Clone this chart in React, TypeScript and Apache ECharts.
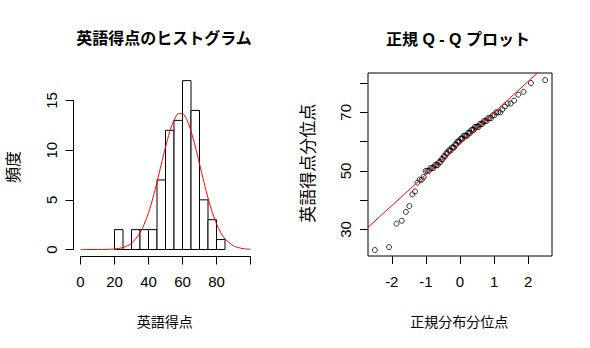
import React, { useEffect, useRef } from "react";
import * as echarts from "echarts";

// Histogram of English scores
const histBreaks = [20, 25, 30, 35, 40, 45, 50, 55, 60, 65, 70, 75, 80, 85];
const histCounts = [2, 0, 2, 2, 2, 7, 12, 13, 17, 14, 5, 3, 1];
const histXTicks = [0, 20, 40, 60, 80];

// Normal density curve (scaled to counts)
const curveX = [0, 5, 10, 15, 20, 25, 30, 35, 37.5, 40, 42.5, 45, 47.5, 50, 52.5, 55, 57.5, 60, 62.5, 65, 67.5, 70, 72.5, 75, 77.5, 80, 82.5, 85, 90, 95, 100];
const curveY = [0, 0, 0.002, 0.011, 0.051, 0.196, 0.63, 1.68, 2.55, 3.7, 5.12, 6.78, 8.56, 10.31, 11.87, 13.03, 13.66, 13.68, 13.07, 11.92, 10.38, 8.63, 6.85, 5.19, 3.75, 2.59, 1.7, 1.07, 0.37, 0.106, 0.025];

// Q-Q plot
const theoQuantiles = [
  -2.4977, -2.08, -1.8627, -1.7086, -1.5871, -1.4853, -1.397, -1.318, -1.2469, -1.1809,
  -1.1203, -1.0636, -1.01, -0.9594, -0.9104, -0.8644, -0.8199, -0.7764, -0.7344, -0.6945,
  -0.6552, -0.6164, -0.5793, -0.5421, -0.5066, -0.4709, -0.4365, -0.4023, -0.3684, -0.3352,
  -0.3021, -0.2695, -0.2371, -0.2051, -0.1733, -0.1415, -0.11, -0.0784, -0.047, -0.0157,
  0.0157, 0.047, 0.0784, 0.11, 0.1415, 0.1733, 0.2051, 0.2371, 0.2695, 0.3021,
  0.3352, 0.3684, 0.4023, 0.4365, 0.4709, 0.5066, 0.5421, 0.5793, 0.6164, 0.6552,
  0.6945, 0.7344, 0.7764, 0.8199, 0.8644, 0.9104, 0.9594, 1.01, 1.0636, 1.1203,
  1.1809, 1.2469, 1.318, 1.397, 1.4853, 1.5871, 1.7086, 1.8627, 2.08, 2.4977,
];
const sortedScores = [
  23, 24, 32, 33, 36, 38, 42, 43, 46, 47, 47, 48, 50, 50, 50, 51, 51, 51, 52, 52,
  52, 53, 53, 54, 54, 55, 55, 56, 56, 57, 57, 57, 58, 58, 58, 59, 59, 60, 60, 60,
  61, 61, 61, 62, 62, 62, 62, 63, 63, 63, 64, 64, 64, 65, 65, 65, 65, 66, 66, 66,
  67, 67, 67, 68, 68, 68, 69, 69, 70, 70, 70, 71, 72, 73, 73, 74, 76, 77, 80, 81,
];
const qqLineX = [-2.698, 2.698];
const qqLineY = [30.75, 87.95];
const qqXTicks = [-2, -1, 0, 1, 2];
const qqYTicks = [30, 40, 50, 60, 70, 80];
const qqYLabels = [30, 50, 70];

const LATIN = "'Liberation Sans', Arial, sans-serif";
const CJK = "'Liberation Sans', 'Noto Sans CJK JP', sans-serif";

export default function App() {
  const ref = useRef<HTMLDivElement>(null);
  useEffect(() => {
    const chart = echarts.init(ref.current!, null, { renderer: "svg" });
    const histData = histCounts.map((c, i) => [histBreaks[i], histBreaks[i + 1], c]);
    const curveData = curveX.map((x, i) => [x, curveY[i]]);
    const qqData = theoQuantiles.map((q, i) => [q, sortedScores[i]]);
    const lineData = qqLineX.map((x, i) => [x, qqLineY[i]]);
    const black = "#000";
    const tickStyle = { show: true, length: 8, lineStyle: { color: black, width: 1 } };
    const labelBase = { color: black, fontSize: 15, fontFamily: LATIN };

    chart.setOption({
      animation: false,
      backgroundColor: "#fff",
      grid: [
        { left: 80.5, top: 100.5, width: 170, height: 149 },
        { left: 368, top: 73, width: 184, height: 183, show: true, borderColor: black, borderWidth: 1, backgroundColor: "transparent" },
      ],
      xAxis: [
        {
          type: "value", gridIndex: 0, min: 0, max: 100, interval: 20, offset: 7,
          axisLine: { show: true, onZero: false, lineStyle: { color: black, width: 1 } },
          axisTick: tickStyle,
          axisLabel: { ...labelBase, margin: 17, showMaxLabel: true, formatter: (v: number) => (histXTicks.includes(v) ? String(v) : "") },
          splitLine: { show: false },
        },
        {
          type: "value", gridIndex: 1, min: -2.698, max: 2.698, offset: 0,
          axisLine: { show: false, onZero: false },
          axisTick: { ...tickStyle, customValues: qqXTicks },
          axisLabel: { ...labelBase, margin: 18, customValues: qqXTicks },
          splitLine: { show: false },
        },
      ],
      yAxis: [
        {
          type: "value", gridIndex: 0, min: 0, max: 15, interval: 5, offset: 7,
          axisLine: { show: true, onZero: false, lineStyle: { color: black, width: 1 } },
          axisTick: tickStyle,
          axisLabel: { ...labelBase, margin: 15, rotate: 90 },
          splitLine: { show: false },
        },
        {
          type: "value", gridIndex: 1, min: 20.96, max: 83.42,
          axisLine: { show: false, onZero: false },
          axisTick: { ...tickStyle, customValues: qqYTicks },
          axisLabel: { ...labelBase, margin: 15, rotate: 90, customValues: qqYLabels },
          splitLine: { show: false },
        },
      ],
      series: [
        {
          type: "custom",
          xAxisIndex: 0,
          yAxisIndex: 0,
          clip: false,
          encode: { x: [0, 1], y: 2 },
          data: histData,
          renderItem: (params: any, api: any) => {
            const p0 = api.coord([api.value(0), api.value(2)]);
            const p1 = api.coord([api.value(1), 0]);
            return {
              type: "rect",
              shape: { x: p0[0], y: p0[1], width: p1[0] - p0[0], height: p1[1] - p0[1] },
              style: { fill: "#fff", stroke: black, lineWidth: 1 },
            };
          },
        },
        {
          type: "line",
          xAxisIndex: 0,
          yAxisIndex: 0,
          data: curveData,
          smooth: 0.3,
          symbol: "none",
          lineStyle: { color: "#ff0000", width: 1 },
          z: 5,
        },
        {
          type: "scatter",
          xAxisIndex: 1,
          yAxisIndex: 1,
          data: qqData,
          symbol: "circle",
          symbolSize: 5,
          itemStyle: { color: "transparent", borderColor: black, borderWidth: 1 },
        },
        {
          type: "line",
          xAxisIndex: 1,
          yAxisIndex: 1,
          data: lineData,
          symbol: "none",
          lineStyle: { color: "#ff0000", width: 1 },
          z: 5,
        },
      ],
      graphic: [
        { type: "text", x: 164, y: 38.5, style: { text: "英語得点のヒストグラム", font: `bold 16px ${CJK}`, fill: black, textAlign: "center", textVerticalAlign: "middle" } },
        { type: "text", x: 458, y: 39, style: { text: "正規 Q - Q プロット", font: `bold 16px ${CJK}`, fill: black, textAlign: "center", textVerticalAlign: "middle" } },
        { type: "text", x: 164.7, y: 321.7, style: { text: "英語得点", font: `14px ${CJK}`, fill: black, textAlign: "center", textVerticalAlign: "middle" } },
        { type: "text", x: 459.2, y: 322.3, style: { text: "正規分布分位点", font: `14px ${CJK}`, fill: black, textAlign: "center", textVerticalAlign: "middle" } },
        { type: "text", x: 13, y: 167, rotation: Math.PI / 2, style: { text: "頻度", font: `16px ${CJK}`, fill: black, textAlign: "center", textVerticalAlign: "middle" } },
        { type: "text", x: 308.3, y: 163.3, rotation: Math.PI / 2, style: { text: "英語得点分位点", font: `17px ${CJK}`, fill: black, textAlign: "center", textVerticalAlign: "middle" } },
      ],
    });
    return () => chart.dispose();
  }, []);
  return (
    <div
      ref={ref}
      style={{ position: "fixed", left: 0, top: 0, width: 590, height: 348, background: "#fff" }}
    />
  );
}
